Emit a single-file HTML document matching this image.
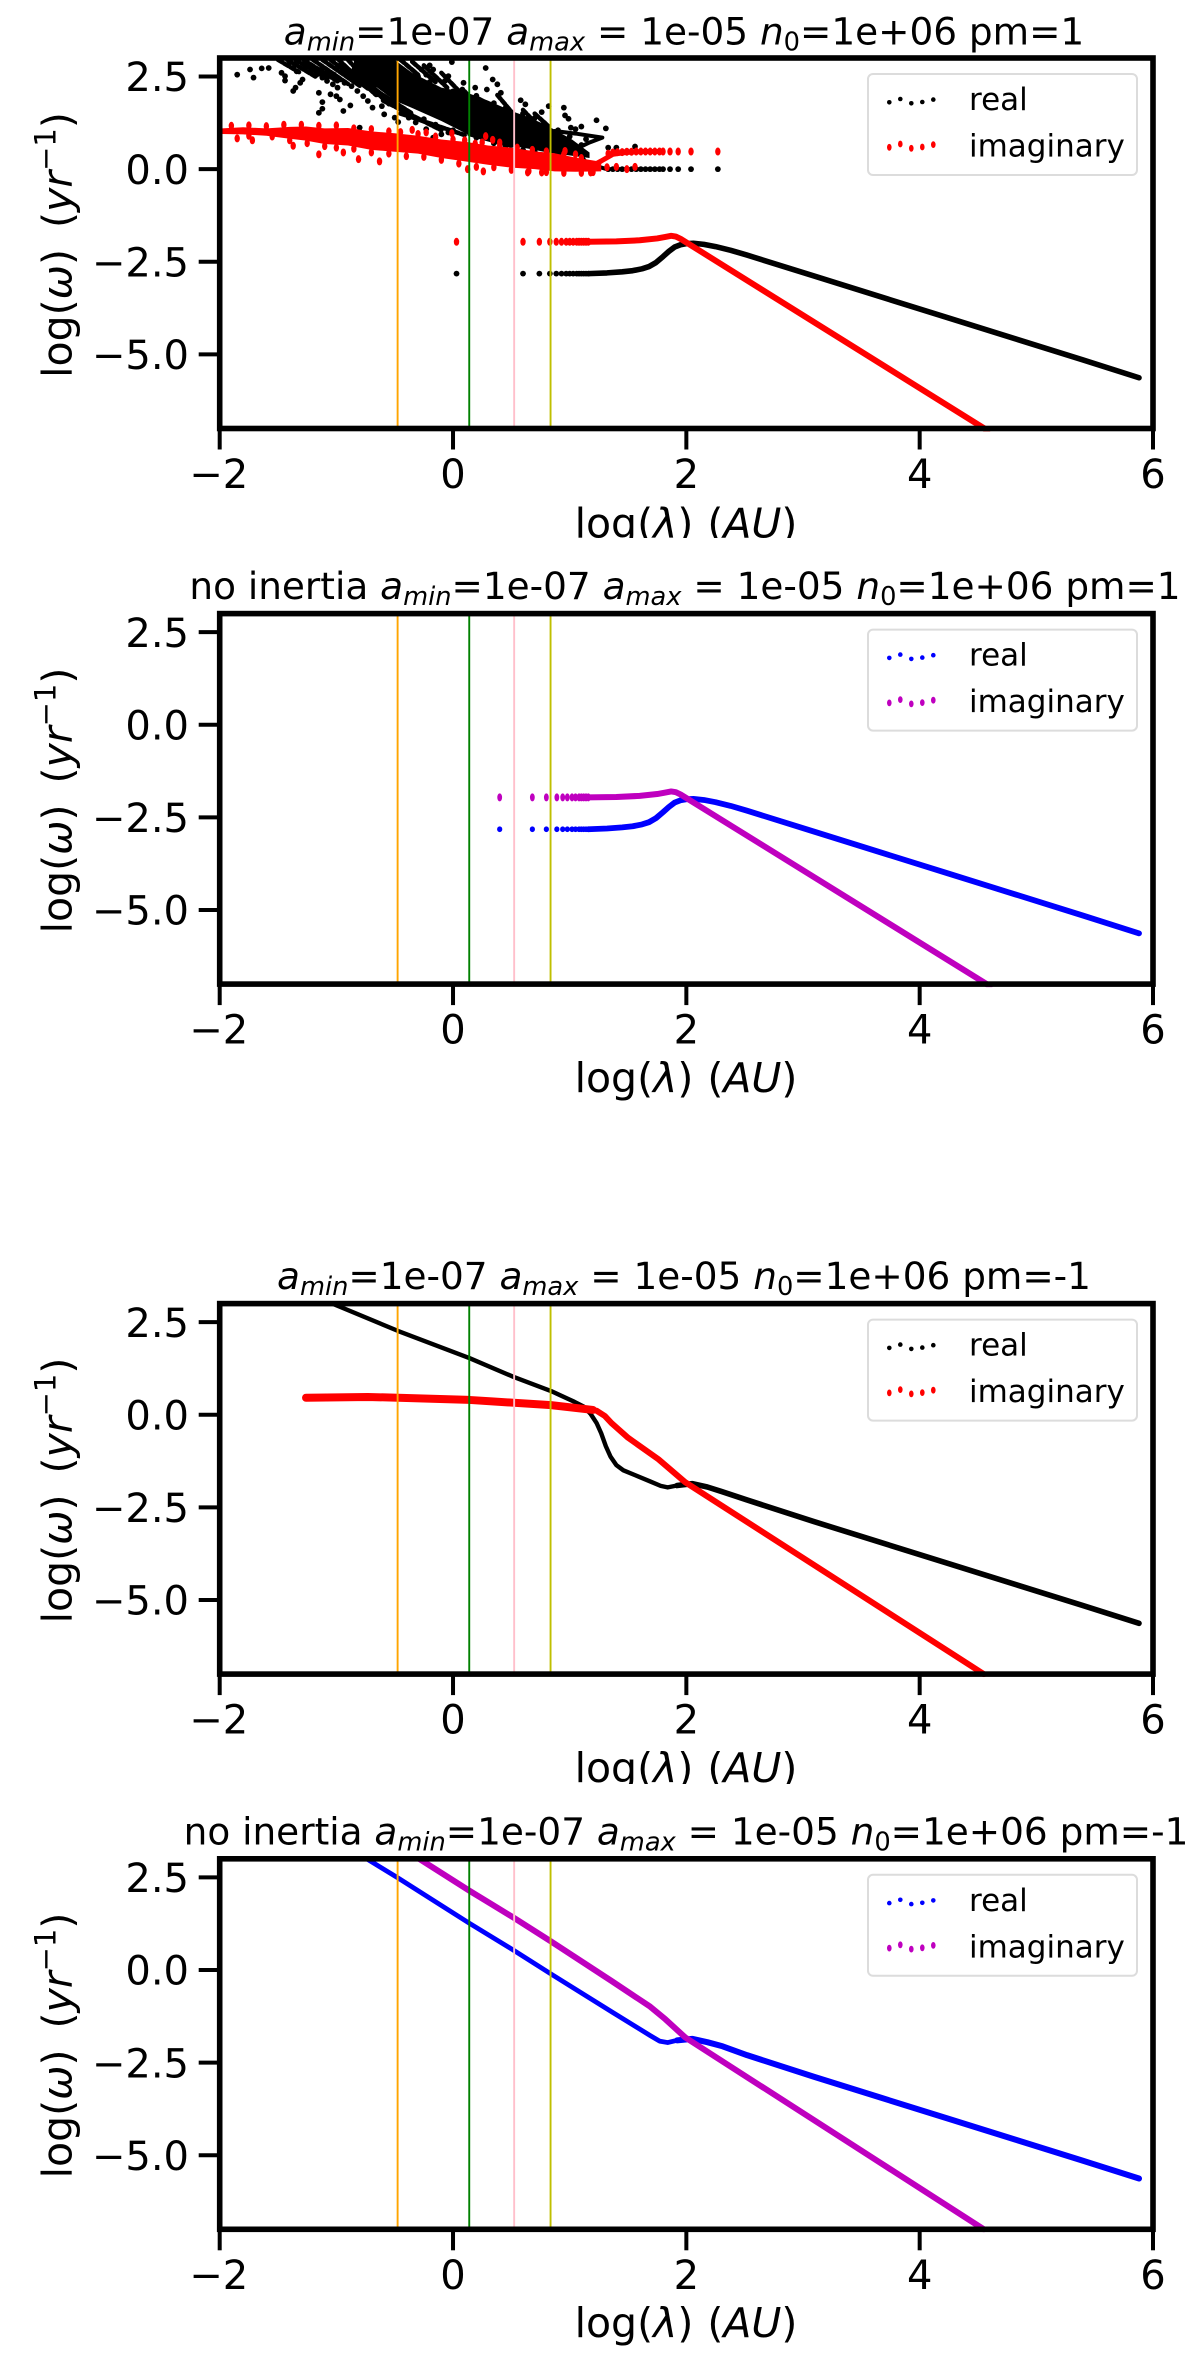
<!DOCTYPE html>
<html lang="en">
<head>
<meta charset="utf-8">
<title>Dispersion relation panels</title>
<style>
html,body{margin:0;padding:0;background:#fff;}
svg{display:block;}
text{font-family:"DejaVu Sans","Liberation Sans",sans-serif;fill:#000;}
.title{font-size:37.4px;text-anchor:middle;}
.xlabel{font-size:41px;text-anchor:middle;word-spacing:1px;}
.ylabel{font-size:41px;text-anchor:middle;word-spacing:8px;}
.leg{font-size:31px;}
.i{font-style:italic;}
</style>
</head>
<body>
<svg id="figure" xmlns="http://www.w3.org/2000/svg" width="1200" height="2359" viewBox="0 0 1200 2359">
<rect x="0" y="0" width="1200" height="2359" fill="#fff"/>
<defs>
<clipPath id="clip-x1"><rect x="0" y="440" width="1200" height="98"/></clipPath>
<clipPath id="clip-x3"><rect x="0" y="1685" width="1200" height="99"/></clipPath>
</defs>

<g id="panel-1">
<text class="title" x="684" y="44.6"><tspan class="i">a</tspan><tspan class="i" font-size="25.7" dy="6">min</tspan><tspan dy="-6">=1e-07 </tspan><tspan class="i">a</tspan><tspan class="i" font-size="25.7" dy="6">max</tspan><tspan dy="-6"> = 1e-05 </tspan><tspan class="i">n</tspan><tspan font-size="25.7" dy="6">0</tspan><tspan dy="-6">=1e+06 pm=1</tspan></text>
<text class="ylabel" transform="translate(71.5,245) rotate(-90)">log(<tspan class="i">ω</tspan>) (<tspan class="i">yr</tspan><tspan font-size="29" dy="-16">−1</tspan><tspan dy="16">)</tspan></text>
<text class="xlabel" clip-path="url(#clip-x1)" x="686" y="537.5">log(<tspan class="i">λ</tspan>) (<tspan class="i">AU</tspan>)</text>
</g>

<g id="panel-2">
<text class="title" x="685" y="599"><tspan>no inertia </tspan><tspan class="i">a</tspan><tspan class="i" font-size="25.7" dy="6">min</tspan><tspan dy="-6">=1e-07 </tspan><tspan class="i">a</tspan><tspan class="i" font-size="25.7" dy="6">max</tspan><tspan dy="-6"> = 1e-05 </tspan><tspan class="i">n</tspan><tspan font-size="25.7" dy="6">0</tspan><tspan dy="-6">=1e+06 pm=1</tspan></text>
<text class="ylabel" transform="translate(71.5,800.5) rotate(-90)">log(<tspan class="i">ω</tspan>) (<tspan class="i">yr</tspan><tspan font-size="29" dy="-16">−1</tspan><tspan dy="16">)</tspan></text>
<text class="xlabel" x="686" y="1092">log(<tspan class="i">λ</tspan>) (<tspan class="i">AU</tspan>)</text>
</g>

<g id="panel-3">
<text class="title" x="684" y="1289"><tspan class="i">a</tspan><tspan class="i" font-size="25.7" dy="6">min</tspan><tspan dy="-6">=1e-07 </tspan><tspan class="i">a</tspan><tspan class="i" font-size="25.7" dy="6">max</tspan><tspan dy="-6"> = 1e-05 </tspan><tspan class="i">n</tspan><tspan font-size="25.7" dy="6">0</tspan><tspan dy="-6">=1e+06 pm=-1</tspan></text>
<text class="ylabel" transform="translate(71.5,1490.5) rotate(-90)">log(<tspan class="i">ω</tspan>) (<tspan class="i">yr</tspan><tspan font-size="29" dy="-16">−1</tspan><tspan dy="16">)</tspan></text>
<text class="xlabel" clip-path="url(#clip-x3)" x="686" y="1782">log(<tspan class="i">λ</tspan>) (<tspan class="i">AU</tspan>)</text>
</g>

<g id="panel-4">
<text class="title" x="686" y="1844.4"><tspan>no inertia </tspan><tspan class="i">a</tspan><tspan class="i" font-size="25.7" dy="6">min</tspan><tspan dy="-6">=1e-07 </tspan><tspan class="i">a</tspan><tspan class="i" font-size="25.7" dy="6">max</tspan><tspan dy="-6"> = 1e-05 </tspan><tspan class="i">n</tspan><tspan font-size="25.7" dy="6">0</tspan><tspan dy="-6">=1e+06 pm=-1</tspan></text>
<text class="ylabel" transform="translate(71.5,2045.5) rotate(-90)">log(<tspan class="i">ω</tspan>) (<tspan class="i">yr</tspan><tspan font-size="29" dy="-16">−1</tspan><tspan dy="16">)</tspan></text>
<text class="xlabel" x="686" y="2337">log(<tspan class="i">λ</tspan>) (<tspan class="i">AU</tspan>)</text>
</g>
</svg>

<script>
// ---- shared axis values ----
const xTicks = [-2, 0, 2, 4, 6];
const xTickLabels = ["−2", "0", "2", "4", "6"];
const yTicks = [2.5, 0, -2.5, -5];
const yTickLabels = ["2.5", "0.0", "−2.5", "−5.0"];
const xDomain = [-2, 6];
const yDomain = [3, -7];
const markerLambda = [-0.475, 0.139, 0.524, 0.836];
const markerNames = ["orange", "green", "pink", "yellow"];
const markerColors = ["#ffa500", "#008000", "#ffc0cb", "#bfbf00"];
const legendLabels = ["real", "imaginary"];
const legendSwatchOffsets = [1, -2.3, 2, 0.7, -1.7];

// ---- panel 1: inertia, pm=1 ----
const p1CloudRealX = [-1.85,-1.74,-1.71,-1.64,-1.58,-1.47,-1.44,-1.44,-1.37,-1.35,-1.31,-1.29,-1.15,-1.12,-1.12,-1.15,-1.05,-1.00,-0.97,-0.94,-0.88,-0.80,-0.69,-0.61,-0.59,-0.50,-0.47,-0.38,-0.32,-0.23,-0.17,-0.10,-0.04,-0.01,0.28,0.19,0.29,0.34,0.38,0.41,0.58,0.62,0.82,0.95,0.76,0.96,0.99,1.10,1.23,1.31,1.01,1.05,1.14,1.33,1.40,1.49,1.56,0.09,0.08,-0.27,-0.20,-0.17,-0.23,-0.07,-0.04,-1.41,-1.37,-1.34,-1.26,-1.22,-1.17,-1.12,-1.08,-1.03,-0.99,-1.12,-1.08,-1.02,-0.97,-0.93,-0.87,-0.82,-0.77,-0.73,-0.96,-0.90,-0.85,-0.79,-0.74,-0.68,-0.64,-0.59,-0.80,-0.74,-0.68,-0.62,-0.56,-0.4,-0.25,-0.15,0,0.2,0.35,0.45,0.6,0.7,0.9,-0.3,-0.2,0,0.2,0.35,0.45,0.6,0.7,0.78,0.9,1.0,1.1];
const p1CloudRealY = [2.55,2.69,2.47,2.72,2.73,2.60,2.51,2.39,2.11,2.20,2.33,2.42,2.06,1.81,1.63,1.52,2.02,1.97,1.88,1.57,1.72,1.12,1.66,1.70,1.48,1.39,1.27,1.39,1.26,1.08,0.85,0.94,0.99,2.89,2.73,2.20,2.15,2.42,2.29,2.06,1.86,1.75,1.70,1.66,1.54,1.45,1.36,1.15,1.32,1.10,1.12,1.08,0.81,0.58,0.58,0.49,0.61,2.33,2.15,2.69,2.80,2.69,2.55,2.38,2.51,2.82,2.73,2.64,2.78,2.64,2.55,2.47,2.38,2.29,2.20,2.73,2.64,2.55,2.42,2.33,2.24,2.11,1.97,1.84,2.82,2.69,2.55,2.42,2.29,2.15,2.02,1.88,2.82,2.69,2.55,2.42,2.29,1.55,1.35,1.2,1.05,0.85,0.7,0.62,0.52,0.48,0.4,2.5,2.35,2.1,1.98,1.78,1.65,1.5,1.38,1.25,1.05,0.88,0.65];
const p1StripeStartX = [-1.5,-1.42,-1.35,-1.28,-1.2,-1.12,-1.05,-0.98,-0.9,-0.85,-0.8,-0.7,-0.6,-0.45,-0.45,-0.35,-0.25,-0.1,0.1,0.22,0.38,0.6,0.7];
const p1StripeStartY = [2.95,2.95,2.95,2.95,2.95,2.95,2.95,2.95,2.95,2.7,2.5,2.2,1.85,1.5,2.95,2.9,2.8,2.6,2.1,1.9,2.0,1.6,1.5];
const p1StripeEndX = [-1.32,-1.18,-1.08,-0.98,-0.9,-0.8,-0.72,-0.66,-0.6,-0.55,-0.45,-0.35,-0.1,0.1,-0.3,-0.15,-0.05,0.1,0.18,0.4,0.5,0.72,0.82];
const p1StripeEndY = [2.62,2.5,2.45,2.35,2.3,2.25,2.15,2.0,1.9,1.75,1.6,1.5,1.05,0.92,2.55,2.35,2.2,1.95,1.8,1.6,1.55,1.2,1.15];
const p1BandRealX = [-0.85,-0.65,-0.5,-0.35,-0.1,0.125,0.3,0.5,0.65,0.81,1.02,1.17];
const p1BandRealTop = [2.95,2.95,2.95,2.6,2.2,2.06,1.85,1.57,1.4,1.17,0.8,0.45];
const p1BandRealBottom = [2.45,2.2,1.85,1.65,1.3,0.94,0.78,0.63,0.55,0.45,0.36,0.3];
const p1LoopRealX = [0.14,0.5,0.87,1.05,1.28,1.17,1.05,1.15,1.32];
const p1LoopRealY = [0.94,0.63,1.03,0.96,0.85,0.72,0.54,0.15,0.0];
const p1BandImagX = [-1.98,-1.8,-1.6,-1.4,-1.26,-1.1,-0.9,-0.7,-0.5,-0.3,-0.1,0.125,0.3,0.5,0.7,0.87,1.05,1.27];
const p1BandImagTop = [1.1,1.13,1.1,1.14,1.15,1.1,1.11,1.02,0.97,0.9,0.8,0.73,0.64,0.58,0.48,0.43,0.31,0.2];
const p1BandImagBottom = [0.95,0.94,0.9,0.82,0.77,0.68,0.64,0.52,0.47,0.42,0.3,0.2,0.12,0.04,0,-0.06,-0.07,-0.06];
const p1CloudImagX = [-1.85,-1.72,-1.37,-1.15,-0.94,-0.81,-0.63,-0.35,-0.23,-0.15,-0.01,0.125,0.26,0.28,0.34,0.40,0.19,0.64,0.76,0.96,1.05,1.18,1.32,1.40,1.49,1.56,-1.9,-1.75,-1.6,-1.45,-1.3,-1.15,-1.0,-0.85,-0.7,-0.55,-0.45,-0.3,-0.15,0,0.1,0.25,0.4,0.55,0.68,0.8,0.95,1.1,-1.75,-1.55,-1.4,-1.25,-1.1,-1.0,-0.85,-0.7,-0.55,-0.4,-0.25,-0.1,0.05,0.2,0.35,0.5,0.65,0.8,0.95,1.1,1.2];
const p1CloudImagY = [0.83,0.78,0.63,0.40,0.45,0.27,0.21,1.06,0.99,0.85,0.97,0.0,-0.06,0.89,0.79,0.72,0.69,-0.09,-0.09,0.49,0.40,-0.09,0.05,0.06,0.0,0.06,1.17,1.18,1.16,1.2,1.2,1.17,1.18,1.1,1.08,1.02,1.0,0.95,0.88,0.8,0.78,0.72,0.64,0.58,0.52,0.48,0.4,0.3,0.9,0.88,0.78,0.7,0.62,0.58,0.55,0.45,0.42,0.35,0.33,0.25,0.15,0.06,0.05,-0.02,-0.05,-0.08,-0.1,-0.1,-0.08];
const p1TailImagX = [1.17,1.27,1.37,1.48,1.63,1.75];
const p1TailImagY = [0.05,0.22,0.40,0.45,0.475,0.475];
const p1TailPointsX = [1.33,1.37,1.41,1.45,1.49,1.53,1.57,1.61,1.65,1.69,1.73,1.77,1.80,1.86,1.93,2.04,2.27];
const p1TailRealY = [0,0,0,0,0,0,0,0,0,0,0,0,0,0,0,0,0];
const p1TailImagPointsY = [0.42,0.45,0.46,0.46,0.47,0.47,0.475,0.475,0.475,0.475,0.475,0.475,0.475,0.475,0.475,0.475,0.475];
const p1SparseX = [0.03,0.60,0.74,0.83,0.885,0.93,0.97,1.0,1.03,1.06,1.08,1.10,1.12,1.14,1.16];
const p1SparseRealY = [-2.82,-2.82,-2.82,-2.82,-2.82,-2.82,-2.82,-2.82,-2.82,-2.82,-2.82,-2.82,-2.82,-2.82,-2.82];
const p1SparseImagY = [-1.96,-1.96,-1.96,-1.96,-1.96,-1.96,-1.96,-1.96,-1.96,-1.96,-1.96,-1.96,-1.96,-1.96,-1.96];
const p1RealX = [1.16,1.32,1.45,1.54,1.62,1.68,1.74,1.8,1.85,1.9,1.95,2.0,2.06,2.15,2.25,2.38,2.52,3.09,3.67,4.24,4.82,5.4,5.88];
const p1RealY = [-2.82,-2.8,-2.77,-2.74,-2.69,-2.63,-2.52,-2.36,-2.22,-2.1,-2.04,-2.01,-2.0,-2.03,-2.09,-2.19,-2.32,-2.88,-3.45,-4.01,-4.58,-5.15,-5.63];
const p1ImagX = [1.16,1.4,1.6,1.75,1.82,1.87,1.91,1.95,4.58];
const p1ImagY = [-1.96,-1.95,-1.92,-1.87,-1.83,-1.8,-1.82,-1.88,-7.05];

// ---- panel 2: no inertia, pm=1 ----
const p2SparseX = [0.40,0.68,0.80,0.89,0.94,0.98,1.02,1.05,1.08,1.10,1.12,1.14,1.16];
const p2SparseRealY = [-2.82,-2.82,-2.82,-2.82,-2.82,-2.82,-2.82,-2.82,-2.82,-2.82,-2.82,-2.82,-2.82];
const p2SparseImagY = [-1.96,-1.96,-1.96,-1.96,-1.96,-1.96,-1.96,-1.96,-1.96,-1.96,-1.96,-1.96,-1.96];
const p2RealX = [1.16,1.32,1.45,1.54,1.62,1.68,1.74,1.8,1.85,1.9,1.95,2.0,2.06,2.15,2.25,2.38,2.52,3.09,3.67,4.24,4.82,5.4,5.88];
const p2RealY = [-2.82,-2.8,-2.77,-2.74,-2.69,-2.63,-2.52,-2.36,-2.22,-2.1,-2.04,-2.01,-2.0,-2.03,-2.09,-2.19,-2.32,-2.88,-3.45,-4.01,-4.58,-5.15,-5.63];
const p2ImagX = [1.16,1.4,1.6,1.75,1.82,1.87,1.91,1.95,4.6];
const p2ImagY = [-1.96,-1.95,-1.92,-1.87,-1.83,-1.8,-1.82,-1.88,-7.05];

// ---- panel 3: inertia, pm=-1 ----
const p3RealLeftX = [-1.05,-0.47,0.14,0.52,0.84,1.04,1.12,1.18,1.23,1.27,1.31,1.35,1.4,1.46,1.56,1.69,1.78,1.84,1.92];
const p3RealLeftY = [3.02,2.26,1.53,1.02,0.64,0.35,0.22,0.02,-0.22,-0.5,-0.85,-1.13,-1.36,-1.5,-1.63,-1.8,-1.92,-1.96,-1.91];
const p3RealRightX = [1.92,2.05,2.18,2.3,2.52,3.09,3.67,4.24,4.82,5.4,5.88];
const p3RealRightY = [-1.91,-1.86,-1.95,-2.07,-2.3,-2.88,-3.45,-4.01,-4.58,-5.15,-5.63];
const p3ImagX = [-1.26,-0.73,-0.47,0.14,0.84,1.23,1.3,1.36,1.5,1.76,1.99,4.55];
const p3ImagY = [0.46,0.48,0.46,0.40,0.26,0.11,-0.03,-0.23,-0.62,-1.2,-1.82,-7.0];
const p3ThickImagX = [-1.26,-0.73,-0.47,0.14,0.84,1.2];
const p3ThickImagY = [0.46,0.48,0.46,0.40,0.26,0.13];

// ---- panel 4: no inertia, pm=-1 ----
const p4RealLeftX = [-0.75,-0.47,0.14,0.52,0.84,1.36,1.69,1.77,1.84,1.92];
const p4RealLeftY = [3.02,2.48,1.26,0.53,-0.11,-1.13,-1.77,-1.92,-1.96,-1.9];
const p4RealRightX = [1.92,2.05,2.18,2.31,2.52,3.09,3.67,4.24,4.82,5.4,5.88];
const p4RealRightY = [-1.9,-1.86,-1.95,-2.06,-2.3,-2.88,-3.45,-4.01,-4.58,-5.15,-5.63];
const p4ImagX = [-0.3,0.14,0.52,0.84,1.36,1.69,1.82,1.99,4.55];
const p4ImagY = [3.02,2.14,1.41,0.77,-0.3,-0.99,-1.33,-1.82,-7.0];

const SVGNS = "http://www.w3.org/2000/svg";
const axLeft = 219.7, axRight = 1153, axHeight = 370.5;

function sx(v) { return axLeft + (v - xDomain[0]) / (xDomain[1] - xDomain[0]) * (axRight - axLeft); }
function syFor(top) { return function (v) { return top + (v - yDomain[0]) / (yDomain[1] - yDomain[0]) * axHeight; }; }
function mk(parent, tag, attrs) {
  const el = document.createElementNS(SVGNS, tag);
  for (const k in attrs) el.setAttribute(k, attrs[k]);
  parent.appendChild(el);
  return el;
}
function line(parent, xs, ys, sy, color, width) {
  const pts = xs.map(function (x, i) { return sx(x).toFixed(2) + "," + sy(ys[i]).toFixed(2); }).join(" ");
  return mk(parent, "polyline", { points: pts, fill: "none", stroke: color, "stroke-width": width, "stroke-linejoin": "round", "stroke-linecap": "round" });
}
function band(parent, xs, tops, bottoms, sy, color) {
  const up = xs.map(function (x, i) { return sx(x).toFixed(2) + "," + sy(tops[i]).toFixed(2); });
  const down = xs.map(function (x, i) { return sx(x).toFixed(2) + "," + sy(bottoms[i]).toFixed(2); }).reverse();
  return mk(parent, "polygon", { points: up.concat(down).join(" "), fill: color });
}
function dots(parent, xs, ys, sy, color, rx, ry) {
  const g = mk(parent, "g", { fill: color });
  xs.forEach(function (x, i) {
    mk(g, "ellipse", { cx: sx(x).toFixed(2), cy: sy(ys[i]).toFixed(2), rx: rx, ry: ry });
  });
  return g;
}
function stripes(parent, x0, y0, x1, y1, sy, color, width) {
  x0.forEach(function (x, i) {
    mk(parent, "line", { x1: sx(x).toFixed(2), y1: sy(y0[i]).toFixed(2), x2: sx(x1[i]).toFixed(2), y2: sy(y1[i]).toFixed(2), stroke: color, "stroke-width": width, "stroke-dasharray": "5 2", "stroke-linecap": "round" });
  });
}

function buildPanel(panelId, top, realColor, imagColor, drawData) {
  const root = document.getElementById(panelId);
  const sy = syFor(top);
  const clipId = panelId + "-clip";
  const defs = mk(root, "clipPath", { id: clipId });
  mk(defs, "rect", { x: axLeft, y: top, width: axRight - axLeft, height: axHeight + 3 });

  const data = mk(root, "g", { "clip-path": "url(#" + clipId + ")" });
  
  
  drawData(data, sy);

  markerLambda.forEach(function (v, i) {
    const vl = mk(root, "line", { x1: sx(v), x2: sx(v), y1: top, y2: top + axHeight, stroke: markerColors[i], "stroke-width": 1.9 });
    
    
  });

  xTicks.forEach(function (v, i) {
    const t = mk(root, "line", { x1: sx(v), x2: sx(v), y1: top + axHeight, y2: top + axHeight + 21, stroke: "#000", "stroke-width": 4 });
    
    
    const l = mk(root, "text", { x: sx(v) + (i === 0 ? -1 : 0), y: top + axHeight + 59.5, "text-anchor": "middle", "font-size": 40 });
    l.textContent = xTickLabels[i];
    
    
  });
  yTicks.forEach(function (v, i) {
    const t = mk(root, "line", { x1: axLeft - 21, x2: axLeft, y1: sy(v), y2: sy(v), stroke: "#000", "stroke-width": 4 });
    
    
    const l = mk(root, "text", { x: 189, y: sy(v) + 14.7, "text-anchor": "end", "font-size": 40 });
    l.textContent = yTickLabels[i];
    
    
  });

  const frame = mk(root, "rect", { x: axLeft, y: top, width: axRight - axLeft, height: axHeight, fill: "none", stroke: "#000", "stroke-width": 5.6 });
  
  

  const leg = mk(root, "g", {});
  
  
  mk(leg, "rect", { x: 868, y: top + 16, width: 269, height: 101, rx: 5, ry: 5, fill: "#fff", "fill-opacity": 0.8, stroke: "#dcdcdc", "stroke-width": 2 });
  legendLabels.forEach(function (lab, row) {
    const entry = mk(leg, "g", {});
    
    
    const rowY = top + 43.3 + row * 45;
    const color = row === 0 ? realColor : imagColor;
    legendSwatchOffsets.forEach(function (off, j) {
      mk(entry, "ellipse", { cx: 889.3 + j * 11, cy: rowY + off, rx: 2.3, ry: row === 0 ? 2.3 : 3.4, fill: color });
    });
    const t = mk(entry, "text", { x: 969, y: top + 52 + row * 46.5, "font-size": 31 });
    t.textContent = lab;
    
    
  });
}

buildPanel("panel-1", 58, "#000", "#f00", function (g, sy) {
  stripes(g, p1StripeStartX, p1StripeStartY, p1StripeEndX, p1StripeEndY, sy, "#000", 4.5);
  dots(g, p1CloudRealX, p1CloudRealY, sy, "#000", 2.9, 2.9);
  band(g, p1BandRealX, p1BandRealTop, p1BandRealBottom, sy, "#000");
  line(g, p1LoopRealX, p1LoopRealY, sy, "#000", 4);
  dots(g, p1TailPointsX, p1TailRealY, sy, "#000", 2.9, 2.9);
  dots(g, p1SparseX, p1SparseRealY, sy, "#000", 2.9, 2.9);
  line(g, p1RealX, p1RealY, sy, "#000", 5.6);
  band(g, p1BandImagX, p1BandImagTop, p1BandImagBottom, sy, "#f00");
  dots(g, p1CloudImagX, p1CloudImagY, sy, "#f00", 2.7, 4);
  line(g, p1TailImagX, p1TailImagY, sy, "#f00", 5);
  dots(g, p1TailPointsX, p1TailImagPointsY, sy, "#f00", 2.7, 4);
  dots(g, p1SparseX, p1SparseImagY, sy, "#f00", 2.7, 4);
  line(g, p1ImagX, p1ImagY, sy, "#f00", 6);
});
buildPanel("panel-2", 613.6, "#00f", "#bf00bf", function (g, sy) {
  dots(g, p2SparseX, p2SparseRealY, sy, "#00f", 2.6, 2.9);
  line(g, p2RealX, p2RealY, sy, "#00f", 5.8);
  dots(g, p2SparseX, p2SparseImagY, sy, "#bf00bf", 2.4, 4);
  line(g, p2ImagX, p2ImagY, sy, "#bf00bf", 6);
});
buildPanel("panel-3", 1303.6, "#000", "#f00", function (g, sy) {
  line(g, p3RealLeftX, p3RealLeftY, sy, "#000", 4.4);
  line(g, p3RealRightX, p3RealRightY, sy, "#000", 5.6);
  line(g, p3ImagX, p3ImagY, sy, "#f00", 6);
  line(g, p3ThickImagX, p3ThickImagY, sy, "#f00", 8);
});
buildPanel("panel-4", 1858.8, "#00f", "#bf00bf", function (g, sy) {
  line(g, p4RealLeftX, p4RealLeftY, sy, "#00f", 4.8);
  line(g, p4RealRightX, p4RealRightY, sy, "#00f", 6);
  line(g, p4ImagX, p4ImagY, sy, "#bf00bf", 6);
});
</script>
</body>
</html>
